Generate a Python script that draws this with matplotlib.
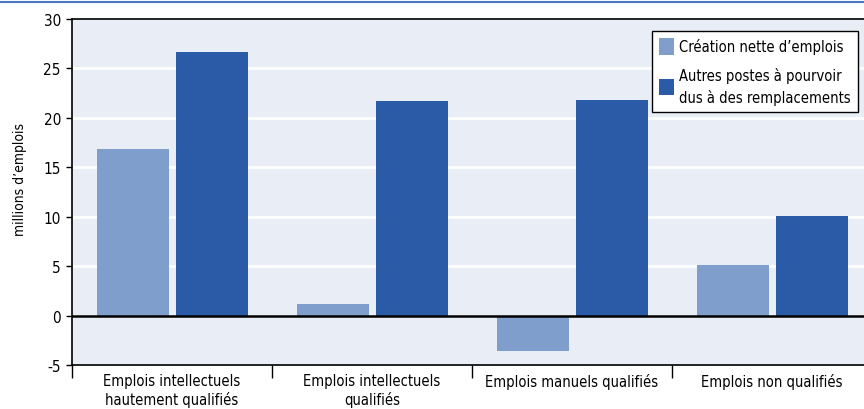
import matplotlib
matplotlib.use('Agg')
import matplotlib.pyplot as plt
from matplotlib import font_manager
import numpy as np

# data (millions of jobs)
categories = ['Emplois intellectuels\nhautement qualifiés',
              'Emplois intellectuels\nqualifiés',
              'Emplois manuels qualifiés',
              'Emplois non qualifiés']
creation_nette = [16.8, 1.2, -3.6, 5.1]
remplacements = [26.7, 21.7, 21.8, 10.1]
series_labels = ['Création nette d’emplois',
                 'Autres postes à pourvoir\ndus à des remplacements']

# the original uses a condensed face; take a narrow one if there is one
names = {f.name for f in font_manager.fontManager.ttflist}
if 'Liberation Sans Narrow' in names:
    plt.rcParams['font.family'] = ['Liberation Sans Narrow', 'DejaVu Sans']
else:
    plt.rcParams['font.family'] = ['DejaVu Sans']
    plt.rcParams['font.stretch'] = 'condensed'
plt.rcParams['axes.unicode_minus'] = False

light = '#7F9ECC'
dark = '#2B5BA7'

fig = plt.figure(figsize=(8.64, 4.10), dpi=100)
ax = fig.add_axes([72 / 864, 44 / 410, 800 / 864, 346 / 410])
ax.set_facecolor('#E9EDF5')

x = np.arange(len(categories))
w = 0.36
ax.bar(x - 0.195, creation_nette, w, color=light, label=series_labels[0], zorder=2)
ax.bar(x + 0.2, remplacements, w, color=dark, label=series_labels[1], zorder=2)

ax.set_xlim(-0.5, len(categories) - 0.5)
ax.set_ylim(-5, 30)
ax.set_yticks(range(-5, 31, 5))
for v in range(5, 30, 5):
    ax.axhline(v, color='white', lw=2, zorder=1)
ax.axhline(0, color='black', lw=1.8, zorder=3)

# category boundaries as ticks, labels at centres
ax.set_xticks(np.arange(-0.5, len(categories), 1.0))
ax.set_xticklabels([])
ax.set_xticks(x, minor=True)
ax.set_xticklabels(categories, minor=True, fontsize=10.5)
ax.tick_params(axis='x', which='major', length=9, width=1, direction='out')
ax.tick_params(axis='x', which='minor', length=0, pad=6)
ax.tick_params(axis='y', length=4, width=1, labelsize=11, pad=4)

for s in ['left', 'bottom', 'top']:
    ax.spines[s].set_color('black')
    ax.spines[s].set_linewidth(1.2)
ax.spines['right'].set_visible(False)

ax.set_ylabel('millions d’emplois', fontsize=10)
ax.yaxis.set_label_coords(-0.056, 0.54)

leg = ax.legend(loc='upper right', bbox_to_anchor=(858 / 864, 1 - 32 / 410),
                bbox_transform=fig.transFigure, fontsize=10.5, frameon=True,
                fancybox=False, edgecolor='black', framealpha=1,
                handlelength=1.0, handleheight=1.35, handletextpad=0.35,
                borderpad=0.5, labelspacing=0.85, borderaxespad=0)
for t in leg.get_texts():
    t.set_linespacing(1.45)
leg.get_frame().set_linewidth(1)
leg.set_zorder(5)

# blue rule at the very top (title area cut off in the reference)
fig.add_artist(plt.Line2D([0, 1], [1 - 3 / 410, 1 - 3 / 410],
                          transform=fig.transFigure, color='#4A78C0', lw=1.5))

fig.savefig('out.png', dpi=100)
